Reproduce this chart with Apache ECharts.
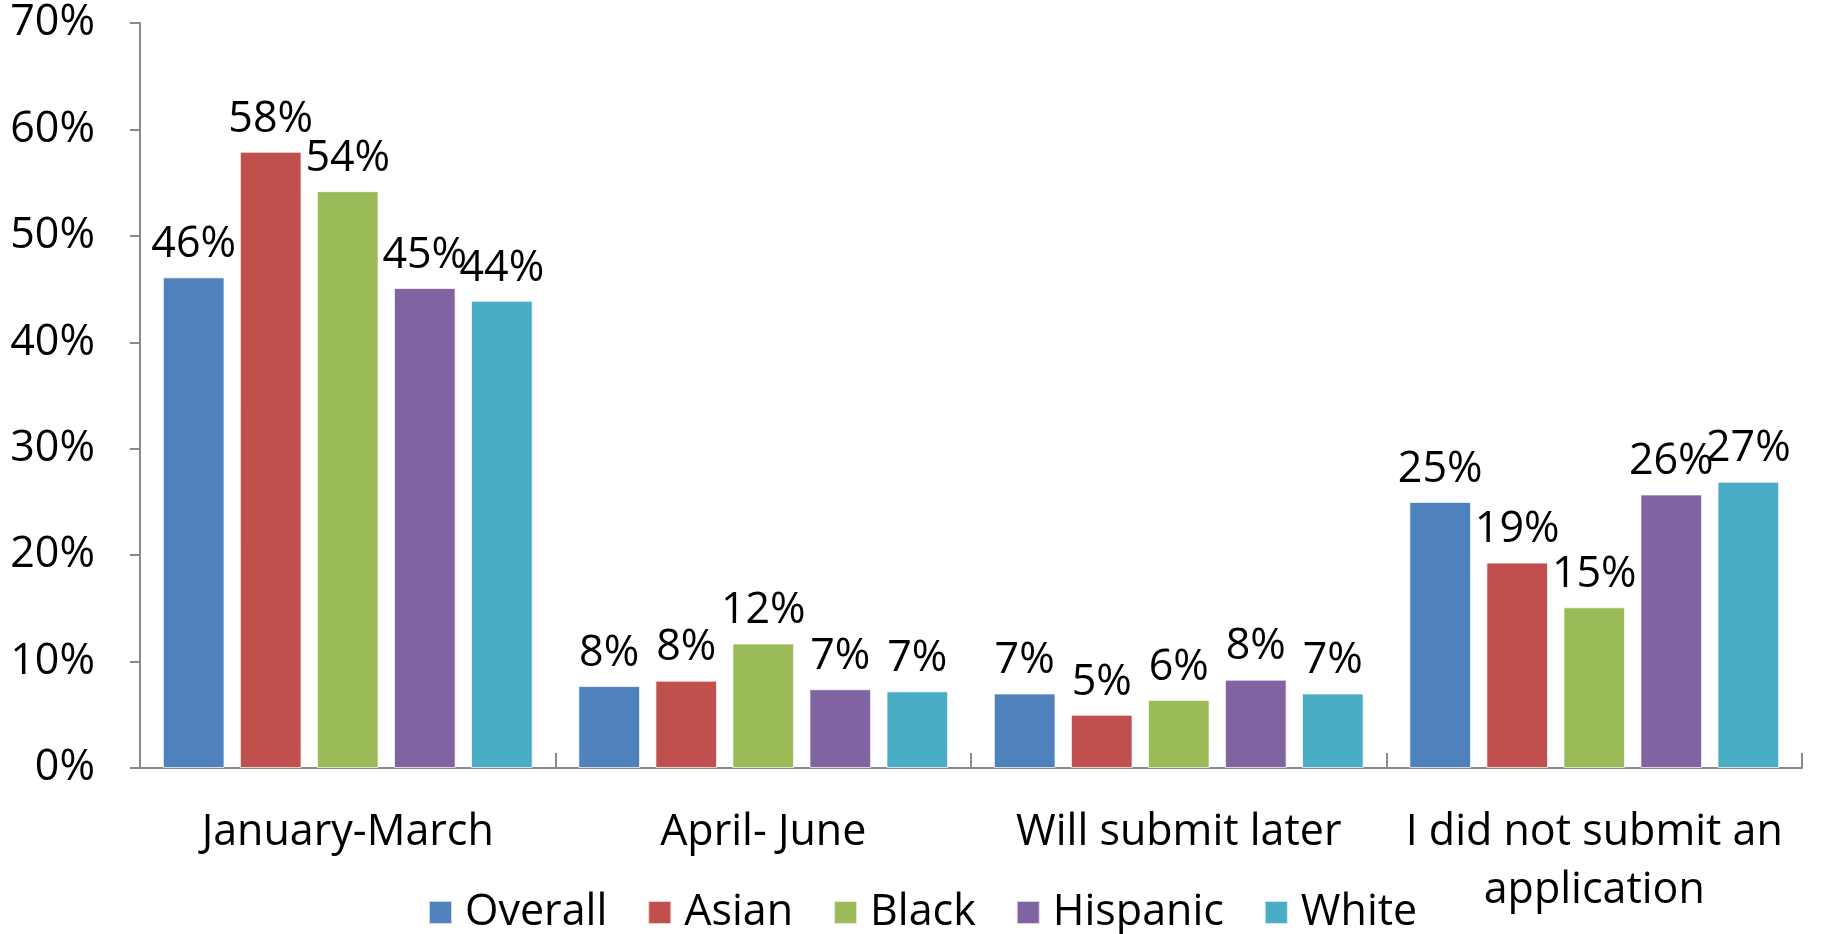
<!DOCTYPE html>
<html>
<head>
<meta charset="utf-8">
<script src="https://cdn.jsdelivr.net/npm/echarts@6/dist/echarts.min.js"></script>
<style>
  html, body { margin: 0; padding: 0; background: #fff; }
  #chart { width: 1825px; height: 934px; }
</style>
</head>
<body>
<div id="chart"></div>
<script>
const categories = ['January-March', 'April- June', 'Will submit later', 'I did not submit an\napplication']
const seriesNames = ['Overall', 'Asian', 'Black', 'Hispanic', 'White']
const overall = [46.1, 7.7, 7.0, 25.0]
const asian = [57.9, 8.2, 5.0, 19.3]
const black = [54.2, 11.7, 6.4, 15.1]
const hispanic = [45.1, 7.4, 8.3, 25.7]
const white = [43.9, 7.2, 7.0, 26.9]
const yTicks = [0, 10, 20, 30, 40, 50, 60, 70]

const colors = ['#4f81bd', '#c0504d', '#9bbb59', '#8064a2', '#4bacc6']
const font = '"Open Sans", "Noto Sans", sans-serif'
const values = [overall, asian, black, hispanic, white]

const chart = echarts.init(document.getElementById('chart'))

chart.setOption({
  animation: false,
  color: colors,
  textStyle: { fontFamily: font },
  grid: { left: 140, right: 23, top: 23, bottom: 166, containLabel: false, outerBoundsMode: 'none' },
  legend: {
    left: 428,
    top: 891,
    padding: 0,
    icon: 'rect',
    itemWidth: 23,
    itemHeight: 23,
    itemGap: 40,
    data: seriesNames,
    textStyle: { fontSize: 43, color: '#000', fontFamily: font, padding: [0, 0, 0, 8] }
  },
  xAxis: {
    type: 'category',
    data: categories,
    axisLine: { lineStyle: { color: '#898989', width: 2 } },
    axisTick: { show: true, inside: true, length: 15, lineStyle: { color: '#898989', width: 2 } },
    axisLabel: { color: '#000', fontSize: 43, fontFamily: font, lineHeight: 58, margin: 36, interval: 0 }
  },
  yAxis: {
    type: 'value',
    min: yTicks[0],
    max: yTicks[yTicks.length - 1],
    interval: 10,
    splitLine: { show: false },
    axisLine: { show: true, lineStyle: { color: '#898989', width: 2 } },
    axisTick: { show: true, length: 10, lineStyle: { color: '#898989', width: 2 } },
    axisLabel: { color: '#000', fontSize: 43, fontFamily: font, margin: 45, formatter: '{value}%' }
  },
  series: seriesNames.map((name, i) => ({
    name,
    type: 'bar',
    data: values[i],
    barGap: '25%',
    barCategoryGap: '11%',
    itemStyle: { color: colors[i], borderColor: 'rgba(255,255,255,0.7)', borderWidth: 1 },
    label: {
      show: true,
      position: 'top',
      distance: 11,
      color: '#000',
      fontSize: 43,
      fontFamily: font,
      formatter: p => Math.round(p.value) + '%'
    }
  }))
})
</script>
</body>
</html>
